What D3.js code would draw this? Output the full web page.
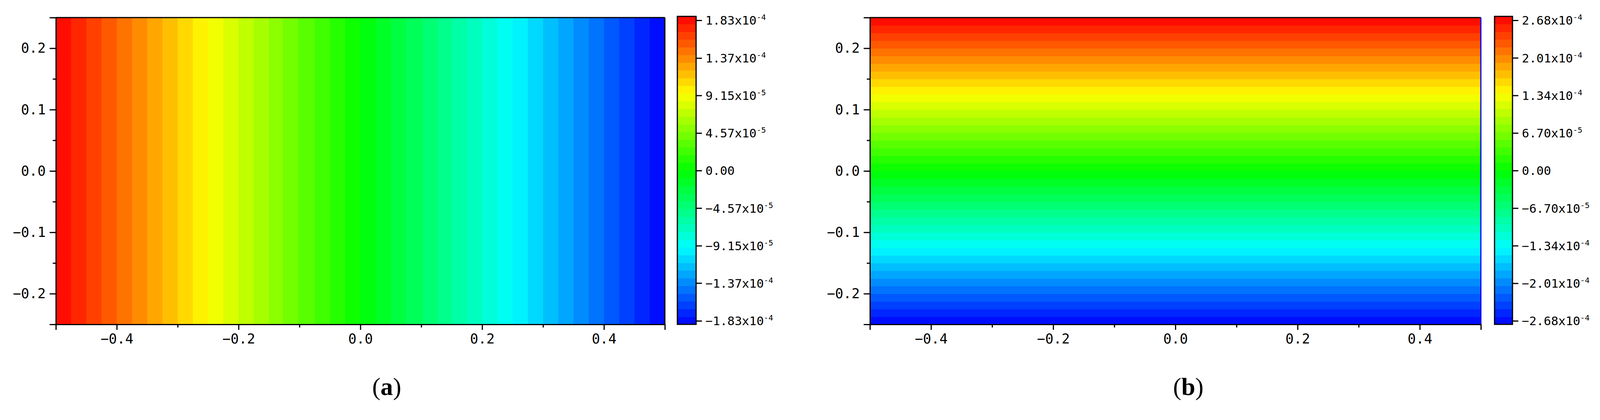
<!DOCTYPE html>
<html><head><meta charset="utf-8">
<script src="https://cdn.jsdelivr.net/npm/d3@7"></script>
<style>body{margin:0;background:#fff}</style></head>
<body><svg id="c" width="4233" height="1076"></svg>
<script>
// Panel (a): field varies along x
const aPos = [-0.5,-0.4,-0.3,-0.2,-0.1,0.0,0.1,0.2,0.3,0.4,0.5];
const aVal = [1.83e-4,1.46e-4,1.10e-4,7.3e-5,3.6e-5,0,-3.6e-5,-7.3e-5,-1.10e-4,-1.46e-4,-1.83e-4];
const aTicks = [1.83e-4,1.37e-4,9.15e-5,4.57e-5,0,-4.57e-5,-9.15e-5,-1.37e-4,-1.83e-4];
const aLabels = [["1.83x10","-4"],["1.37x10","-4"],["9.15x10","-5"],["4.57x10","-5"],["0.00",""],["−4.57x10","-5"],["−9.15x10","-5"],["−1.37x10","-4"],["−1.83x10","-4"]];
// Panel (b): field varies along y
const bPos = [-0.25,-0.2,-0.1,0.0,0.1,0.2,0.25];
const bVal = [-2.68e-4,-2.14e-4,-1.07e-4,0,1.07e-4,2.14e-4,2.68e-4];
const bTicks = [2.68e-4,2.01e-4,1.34e-4,6.70e-5,0,-6.70e-5,-1.34e-4,-2.01e-4,-2.68e-4];
const bLabels = [["2.68x10","-4"],["2.01x10","-4"],["1.34x10","-4"],["6.70x10","-5"],["0.00",""],["−6.70x10","-5"],["−1.34x10","-4"],["−2.01x10","-4"],["−2.68x10","-4"]];
const xTicks = [-0.4,-0.2,0.0,0.2,0.4];
const yTicks = [0.2,0.1,0.0,-0.1,-0.2];
const nLevels = 40;

const svg = d3.select("#c");
const jet = d3.scaleLinear().domain([-1,-0.5,0,0.5,1]).range(["#0000ff","#00ffff","#00ff00","#ffff00","#ff0000"]);
const fmt = v => v.toFixed(1).replace("-","−");
const FONT = "DejaVu Sans Mono";
const TOP = 45, BOT = 831;

function panel(o){
  const g = svg.append("g");
  const x = d3.scaleLinear().domain([-0.5,0.5]).range([o.x0,o.x1]);
  const y = d3.scaleLinear().domain([-0.25,0.25]).range([BOT,TOP]);
  const vmax = o.ticks[0];
  const q = v => { const t = (v+vmax)/(2*vmax); const k = Math.min(nLevels-1,Math.max(0,Math.floor(t*nLevels))); return jet(((k+0.5)/nLevels)*2-1); };
  const interp = d3.scaleLinear().domain(o.pos).range(o.val);
  const N = 400;
  const cells = d3.range(N);
  if(o.dir==="x"){
    g.selectAll("rect.c").data(cells).join("rect")
      .attr("x",i=>x(-0.5+i/N)).attr("width",i=>x(-0.5+(i+1)/N)-x(-0.5+i/N)+0.8)
      .attr("y",y(0.25)).attr("height",y(-0.25)-y(0.25))
      .attr("fill",i=>q(interp(-0.5+(i+0.5)/N)));
  } else {
    g.selectAll("rect.c").data(cells).join("rect")
      .attr("y",i=>y(-0.25+(i+1)*0.5/N)).attr("height",i=>y(-0.25+i*0.5/N)-y(-0.25+(i+1)*0.5/N)+0.8)
      .attr("x",x(-0.5)).attr("width",x(0.5)-x(-0.5))
      .attr("fill",i=>q(interp(-0.25+(i+0.5)*0.5/N)));
  }
  g.append("line").attr("x1",x(-0.5)).attr("x2",x(0.5)).attr("y1",y(0.25)).attr("y2",y(0.25)).attr("stroke","#000").attr("stroke-width",3);
  g.append("line").attr("x1",x(0.5)).attr("x2",x(0.5)).attr("y1",y(0.25)).attr("y2",y(-0.25))
    .attr("stroke",o.rightBorder?"#000":"#0000ff").attr("stroke-width",3);
  const ya = g.append("g").attr("transform",`translate(${x(-0.5)},0)`)
    .call(d3.axisLeft(y).tickValues(yTicks).tickSize(16).tickPadding(10).tickFormat(fmt));
  g.append("g").attr("transform",`translate(${x(-0.5)},0)`)
    .call(d3.axisLeft(y).tickValues([0.25,0.15,0.05,-0.05,-0.15,-0.25]).tickSize(8).tickFormat("")).call(s=>s.select(".domain").remove());
  const xa = g.append("g").attr("transform",`translate(0,${y(-0.25)})`)
    .call(d3.axisBottom(x).tickValues(xTicks).tickSize(14).tickPadding(10).tickFormat(fmt));
  g.append("g").attr("transform",`translate(0,${y(-0.25)})`)
    .call(d3.axisBottom(x).tickValues([-0.5,-0.3,-0.1,0.1,0.3,0.5]).tickSize(8).tickFormat("")).call(s=>s.select(".domain").remove());
  [ya,xa].forEach(a=>{a.select(".domain").attr("stroke-width",3); a.selectAll("text").attr("font-family",FONT).attr("font-size",35).attr("fill","#000");});
  g.selectAll(".tick line").attr("stroke-width",3);
  const cb = d3.scaleLinear().domain([-vmax,vmax]).range([BOT,TOP-3]);
  const lv = d3.range(nLevels);
  g.selectAll("rect.cb").data(lv).join("rect")
    .attr("x",o.cbx).attr("width",o.cbw)
    .attr("y",k=>cb(-vmax+(k+1)*2*vmax/nLevels)).attr("height",k=>cb(-vmax+k*2*vmax/nLevels)-cb(-vmax+(k+1)*2*vmax/nLevels)+0.6)
    .attr("fill",k=>jet(((k+0.5)/nLevels)*2-1));
  g.append("rect").attr("x",o.cbx).attr("y",TOP-3).attr("width",o.cbw).attr("height",BOT-TOP+3).attr("fill","none").attr("stroke","#000").attr("stroke-width",3);
  const cbs = d3.scaleLinear().domain([-vmax,vmax]).range([BOT-9,TOP+7]);
  const ca = g.append("g").attr("transform",`translate(${o.cbx+o.cbw},0)`)
    .call(d3.axisRight(cbs).tickValues(o.ticks).tickSize(15).tickPadding(12).tickFormat(()=>""));
  ca.select(".domain").remove();
  ca.selectAll(".tick line").attr("stroke-width",3);
  ca.selectAll(".tick").each(function(d,i){
    const t = d3.select(this).append("text").attr("x",24).attr("dy","0.35em").attr("fill","#000")
      .attr("font-family",FONT).attr("font-size",31);
    t.append("tspan").text(o.labels[i][0]);
    if(o.labels[i][1]) t.append("tspan").attr("dy","-0.6em").attr("font-size",20).text(o.labels[i][1]);
  });
  const cap = g.append("text").attr("x",o.capx).attr("y",1012).attr("text-anchor","middle")
    .attr("font-family","Liberation Serif").attr("font-size",64).attr("fill","#000");
  cap.append("tspan").text("(");
  cap.append("tspan").attr("font-weight","bold").text(o.cap);
  cap.append("tspan").text(")");
}
panel({x0:143,x1:1702,dir:"x",pos:aPos,val:aVal,ticks:aTicks,labels:aLabels,cbx:1734,cbw:48,capx:990,cap:"a",rightBorder:true});
panel({x0:2227,x1:3791,dir:"y",pos:bPos,val:bVal,ticks:bTicks,labels:bLabels,cbx:3826,cbw:46,capx:3042,cap:"b",rightBorder:false});
</script></body></html>
